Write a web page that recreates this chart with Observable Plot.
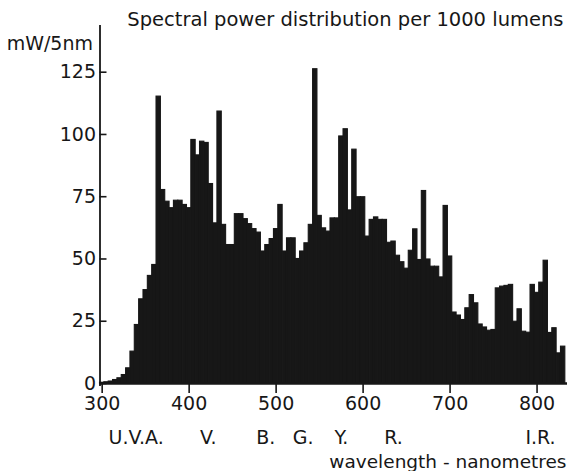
<!DOCTYPE html>
<html>
<head>
<meta charset="utf-8">
<script src="https://cdn.jsdelivr.net/npm/d3@7"></script>
<script src="https://cdn.jsdelivr.net/npm/@observablehq/plot@0.6"></script>
<style>
  html, body { margin: 0; padding: 0; background: #fff; }
</style>
</head>
<body>
<div id="chart"></div>
<script>
// Wavelength bins (nm, centre of each 5 nm band)
const wavelengths = d3.range(300, 835, 5);
// Spectral power, mW per 5 nm per 1000 lumens
const power = [
  0.3, 0.5, 0.8, 1.4, 2.1, 3.4, 6.1, 12.8, 23.5, 33.8, 37.5, 43.2, 47.6,   // 300-360
  115.2, 77.7, 73.0, 70.4, 73.4, 73.4, 71.7, 70.4,                           // 365-400
  97.8, 91.6, 97.1, 96.6, 80.1, 64.3, 109.2, 63.7, 55.6, 55.6,               // 405-450
  68.0, 68.0, 66.0, 64.0, 62.0, 60.6, 53.0, 55.6, 58.0, 62.0,                // 455-500
  71.7, 53.0, 58.3, 58.3, 50.0, 53.0, 56.3, 63.7, 126.2, 67.3,               // 505-550
  62.3, 61.0, 66.3, 66.3, 99.2, 102.1, 69.5, 93.9, 74.8, 74.8,               // 555-600
  59.0, 65.7, 66.7, 65.7, 65.7, 56.5, 57.0, 51.3, 48.7, 46.1,                // 605-650
  53.3, 61.9, 49.6, 77.3, 49.8, 46.9, 46.9, 42.6, 71.3, 51.0,                // 655-700
  28.5, 27.3, 25.5, 30.2, 35.5, 32.2, 23.7, 22.5, 21.2, 21.5,                // 705-750
  38.2, 38.9, 39.2, 39.6, 24.8, 29.8, 20.8, 20.4, 39.6, 36.4,                // 755-800
  40.5, 49.3, 20.3, 22.2, 12.1, 14.8                                         // 805-830
];
const xTicks = [300, 400, 500, 600, 700, 800];
const yTicks = [0, 25, 50, 75, 100, 125];
const bandNames = ["U.V.A.", "V.", "B.", "G.", "Y.", "R.", "I.R."];
const bandPositions = [339, 422, 488, 531, 575, 635, 804];
const title = "Spectral power distribution per 1000 lumens";
const yUnit = "mW/5nm";
const xTitle = "wavelength - nanometres";

const data = wavelengths.map((w, i) => ({w, v: power[i]}));
const bands = bandNames.map((name, i) => ({name, x: bandPositions[i]}));
const binHalf = 2.5;
const xMin = wavelengths[0] - binHalf;
const ink = "#171717";

const chart = Plot.plot({
  width: 571,
  height: 471,
  marginLeft: 99.5,
  marginRight: 4,
  marginTop: 25,
  marginBottom: 88,
  style: {fontFamily: "DejaVu Sans, sans-serif", fontSize: "19px", color: ink, background: "#fff"},
  x: {domain: [xMin, 835]},
  y: {domain: [0, 143.75]},
  marks: [
    Plot.rect(data, {x1: d => d.w - binHalf, x2: d => d.w + binHalf, y1: 0, y2: "v", fill: ink, stroke: ink, strokeWidth: 1.1}),
    Plot.ruleX([xMin], {stroke: ink, strokeWidth: 1.8, insetBottom: -3}),
    Plot.ruleY([0], {stroke: ink, strokeWidth: 2.5}),
    Plot.tickY(yTicks, {y: d => d, stroke: ink, strokeWidth: 1.6, insetRight: 571 - 99.5 - 4 - 7}),
    Plot.axisY(yTicks, {tickSize: 0, tickPadding: 4, label: null, tickFormat: d => String(d)}),
    Plot.axisX(xTicks, {tickSize: 10, tickPadding: 3, strokeWidth: 1.6, label: null, tickFormat: d => String(d)}),
    Plot.text([title], {frameAnchor: "top-right", dx: -4, dy: -6, lineAnchor: "middle", textAnchor: "end", fill: ink, fontSize: 19.5}),
    Plot.text([yUnit], {frameAnchor: "top-left", dx: -7, dy: 18, lineAnchor: "middle", textAnchor: "end", fill: ink}),
    Plot.text(bands, {x: "x", text: "name", frameAnchor: "bottom", dy: 54, lineAnchor: "middle", fill: ink}),
    Plot.text([xTitle], {frameAnchor: "bottom-right", dx: -1, dy: 79, lineAnchor: "middle", textAnchor: "end", fill: ink, fontSize: 18.5})
  ]
});
document.getElementById("chart").appendChild(chart);
</script>
</body>
</html>
